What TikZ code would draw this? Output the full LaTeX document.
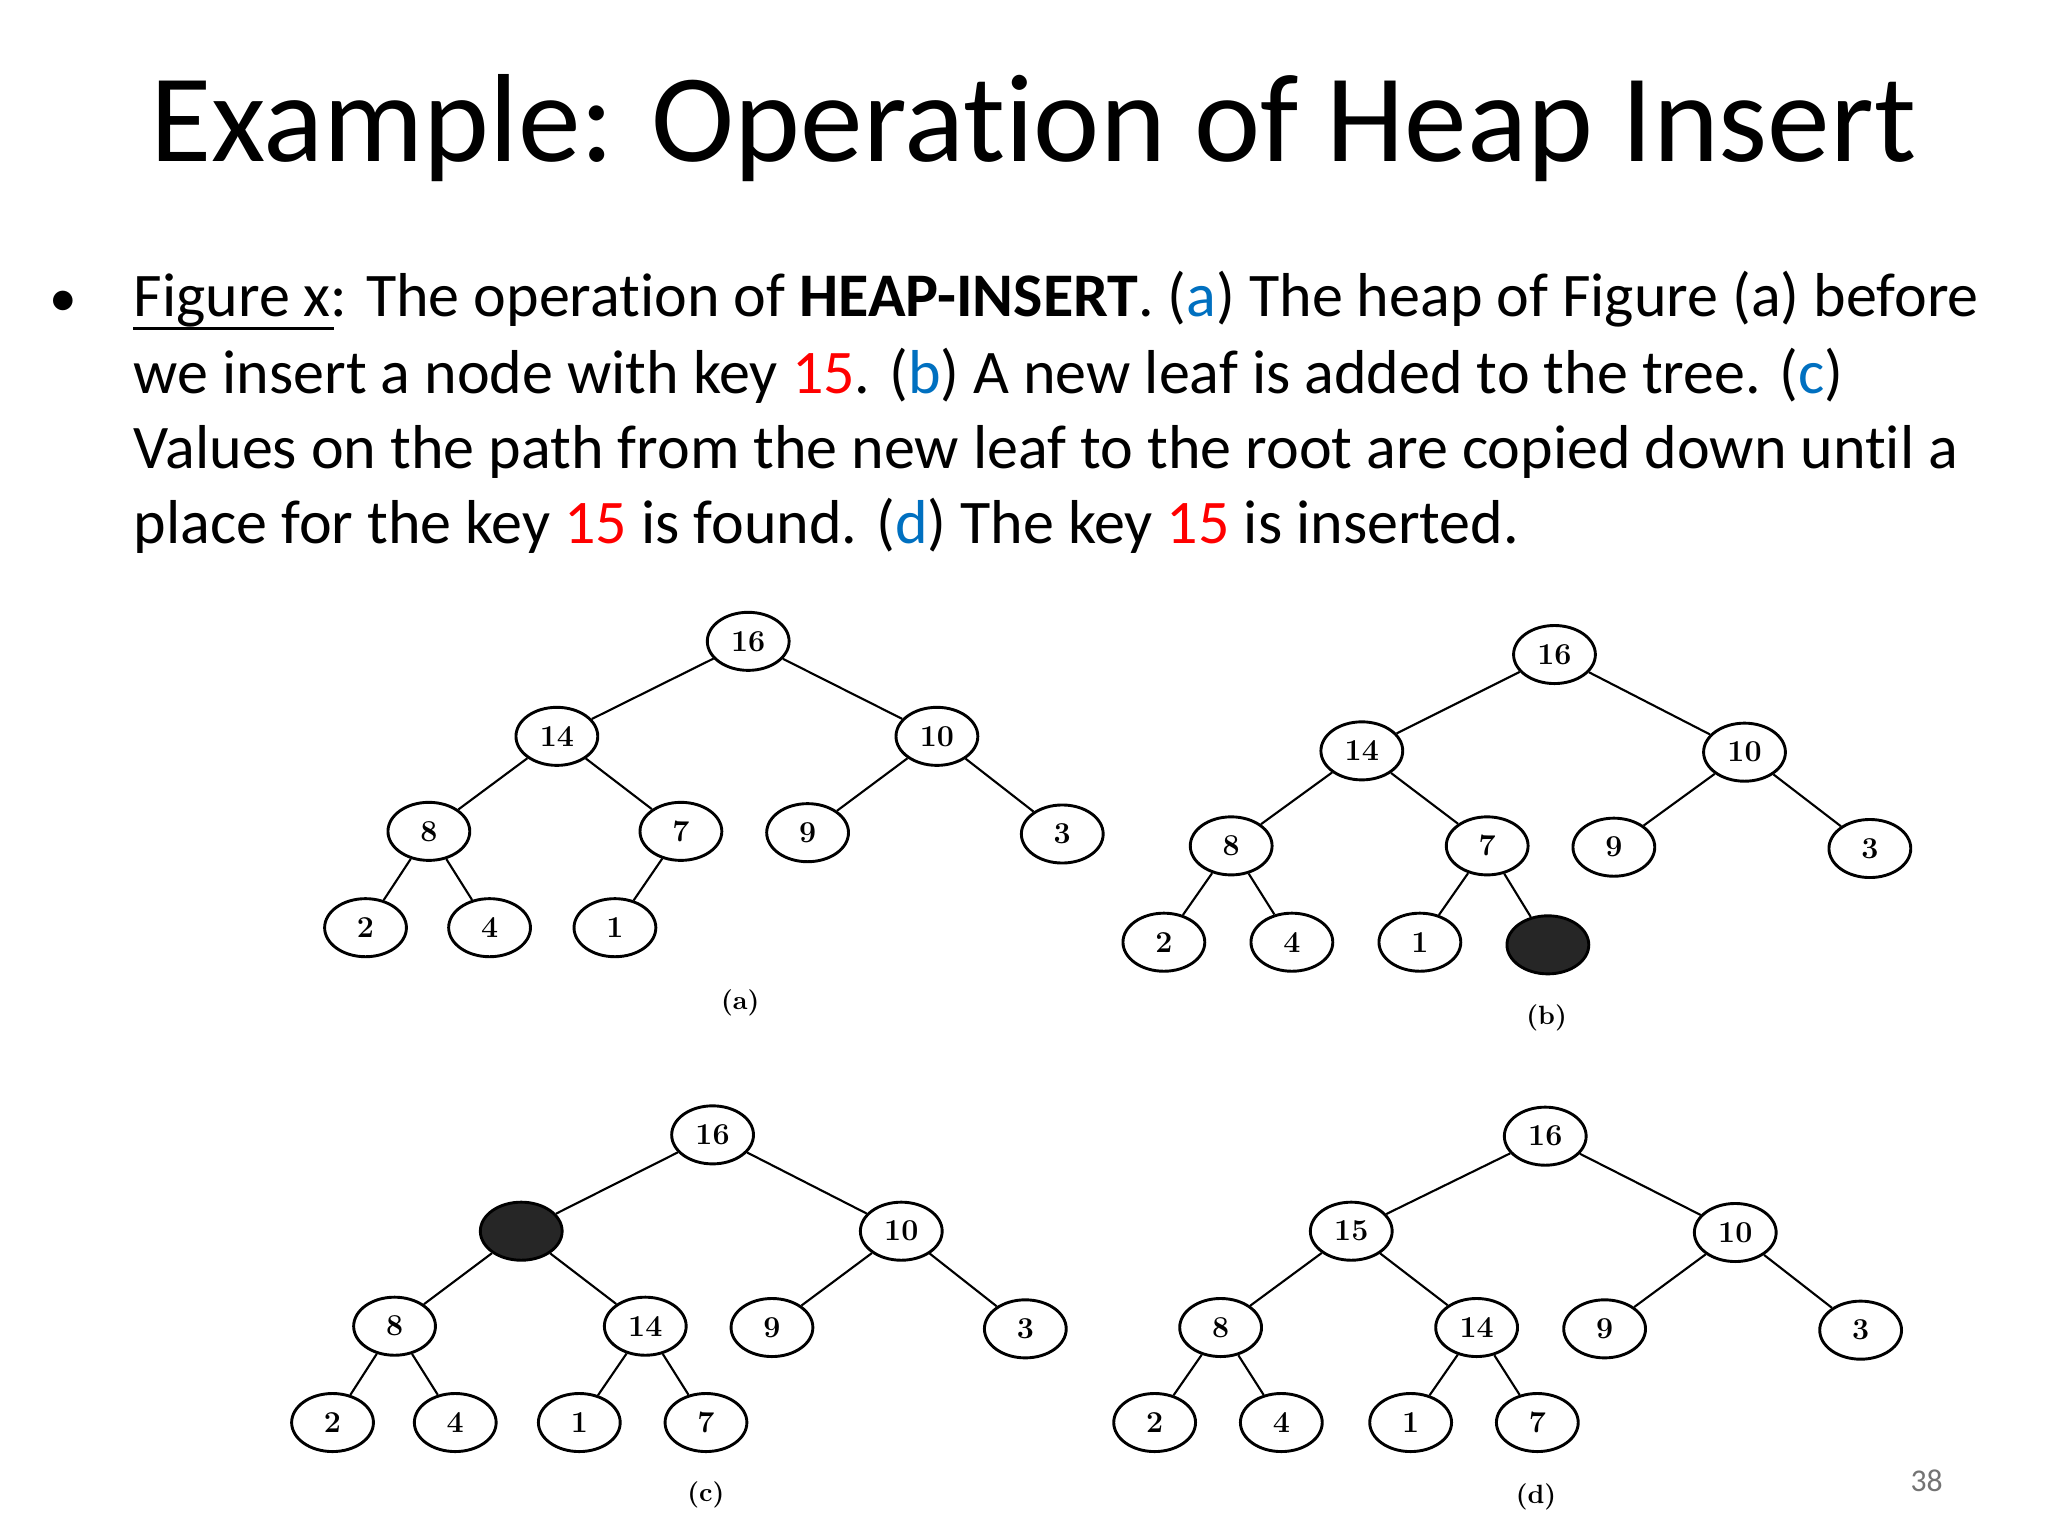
\documentclass[tikz,border=0pt]{standalone}
\usepackage{fontspec}
\setmainfont[Ligatures={NoCommon,NoDiscretionary}]{Carlito}
\usetikzlibrary{shapes.geometric}
\definecolor{cblue}{RGB}{0,112,192}
\definecolor{cred}{RGB}{255,0,0}
\newfontfamily\numfont{Latin Modern Roman}
\newcommand{\ulx}[1]{\tikz[baseline=(u.base)]\node[inner sep=0pt,outer sep=0pt] (u) {#1};\kern0pt}
\begin{document}
\begin{tikzpicture}[x=0.5pt,y=-0.5pt,
  hn/.style={ellipse,draw,line width=1.1pt,minimum width=31pt,minimum height=22pt,inner sep=0pt,font=\numfont\bfseries\fontsize{11.5}{11.5}\selectfont},
  dn/.style={hn,fill=black!85},
  ed/.style={line width=0.8pt},
  lab/.style={font=\numfont\bfseries\fontsize{10}{10}\selectfont},
  body/.style={anchor=base west,inner sep=0pt,font=\fontsize{23.5}{23.5}\selectfont}]
\useasboundingbox[fill=white] (0,0) rectangle (1552,1164);
\node[font=\fontsize{47.5}{47.5}\selectfont] (title) at (783,97) {Example: Operation of Heap Insert};
\node[anchor=base,inner sep=0pt,font=\fontsize{21}{21}\selectfont] (bul) at (48,240) {•};
\node[body] (l1) at (101,240) {Figure x: The operation of \textbf{HEAP-INSERT}. (\textcolor{cblue}{a}) The heap of Figure (a) before};
\draw[line width=1pt] (101,249) -- (253,249);
\node[body] (l2) at (101,298) {we insert a node with key \textcolor{cred}{15}. (\textcolor{cblue}{b}) A new leaf is added to the tree. (\textcolor{cblue}{c})};
\node[body] (l3) at (101,355) {Values on the path from the new leaf to the root are copied down until a};
\node[body] (l4) at (101,412) {place for the key \textcolor{cred}{15} is found. (\textcolor{cblue}{d}) The key \textcolor{cred}{15} is inserted.};
% (a)
\node[hn] (a1) at (567,486) {16};
\node[hn] (a2) at (422,558) {14};
\node[hn] (a3) at (710,558) {10};
\node[hn] (a4) at (325,630) {8};
\node[hn] (a5) at (516,630) {7};
\node[hn] (a6) at (612,631) {9};
\node[hn] (a7) at (805,632) {3};
\node[hn] (a8) at (277,703) {2};
\node[hn] (a9) at (371,703) {4};
\node[hn] (a10) at (466,703) {1};
\draw[ed] (a1)--(a2) (a1)--(a3) (a2)--(a4) (a2)--(a5) (a3)--(a6) (a3)--(a7) (a4)--(a8) (a4)--(a9) (a5)--(a10);
\node[lab] (la) at (561,760) {(a)};
% (b)
\node[hn] (b1) at (1178,496) {16};
\node[hn] (b2) at (1032,569) {14};
\node[hn] (b3) at (1322,570) {10};
\node[hn] (b4) at (933,641) {8};
\node[hn] (b5) at (1127,641) {7};
\node[hn] (b6) at (1223,642) {9};
\node[hn] (b7) at (1417,643) {3};
\node[hn] (b8) at (882,714) {2};
\node[hn] (b9) at (979,714) {4};
\node[hn] (b10) at (1076,714) {1};
\node[dn] (b11) at (1173,716) {};
\draw[ed] (b1)--(b2) (b1)--(b3) (b2)--(b4) (b2)--(b5) (b3)--(b6) (b3)--(b7) (b4)--(b8) (b4)--(b9) (b5)--(b10) (b5)--(b11);
\node[lab] (lb) at (1172,771) {(b)};
% (c)
\node[hn] (c1) at (540,860) {16};
\node[dn] (c2) at (395,933) {};
\node[hn] (c3) at (683,933) {10};
\node[hn] (c4) at (299,1005) {8};
\node[hn] (c5) at (489,1005) {14};
\node[hn] (c6) at (585,1006) {9};
\node[hn] (c7) at (777,1007) {3};
\node[hn] (c8) at (252,1078) {2};
\node[hn] (c9) at (345,1078) {4};
\node[hn] (c10) at (439,1078) {1};
\node[hn] (c11) at (535,1078) {7};
\draw[ed] (c1)--(c2) (c1)--(c3) (c2)--(c4) (c2)--(c5) (c3)--(c6) (c3)--(c7) (c4)--(c8) (c4)--(c9) (c5)--(c10) (c5)--(c11);
\node[lab] (lc) at (535,1133) {(c)};
% (d)
\node[hn] (d1) at (1171,861) {16};
\node[hn] (d2) at (1024,933) {15};
\node[hn] (d3) at (1315,934) {10};
\node[hn] (d4) at (925,1006) {8};
\node[hn] (d5) at (1119,1006) {14};
\node[hn] (d6) at (1216,1007) {9};
\node[hn] (d7) at (1410,1008) {3};
\node[hn] (d8) at (875,1078) {2};
\node[hn] (d9) at (971,1078) {4};
\node[hn] (d10) at (1069,1078) {1};
\node[hn] (d11) at (1165,1078) {7};
\draw[ed] (d1)--(d2) (d1)--(d3) (d2)--(d4) (d2)--(d5) (d3)--(d6) (d3)--(d7) (d4)--(d8) (d4)--(d9) (d5)--(d10) (d5)--(d11);
\node[lab] (ld) at (1164,1134) {(d)};
\node[text=black!55,font=\fontsize{12}{12}\selectfont] (pg) at (1460,1122) {38};
\end{tikzpicture}
\end{document}
